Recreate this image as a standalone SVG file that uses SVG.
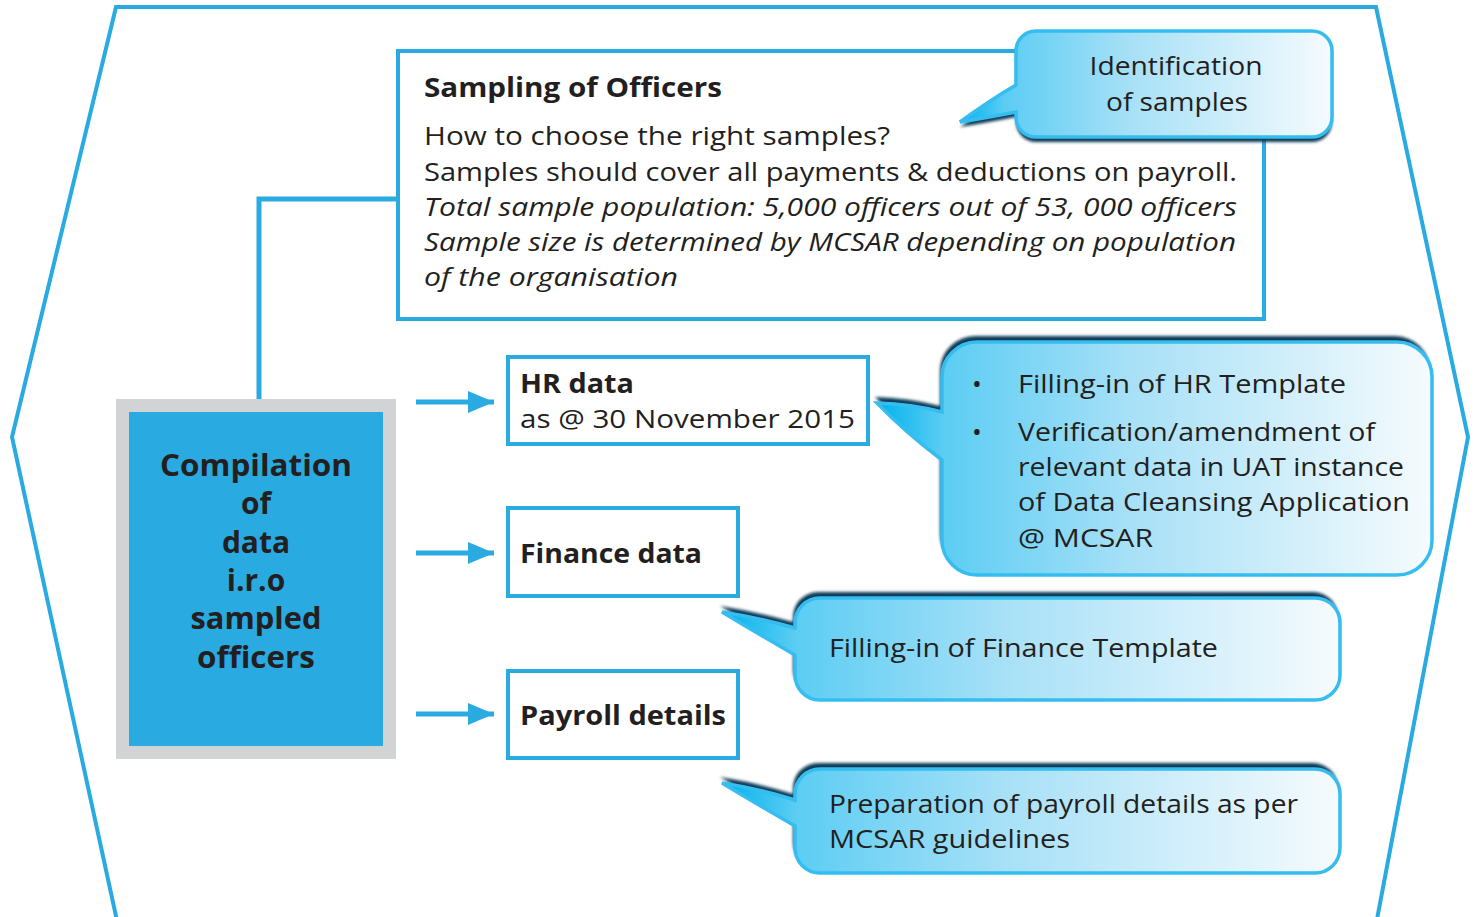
<svg xmlns="http://www.w3.org/2000/svg" width="1477" height="917" viewBox="0 0 1477 917">
  <defs>
    <linearGradient id="bubbleFill" x1="0" y1="0" x2="1" y2="0">
      <stop offset="0" stop-color="#00b2ec"/>
      <stop offset="0.12" stop-color="#5ccdf3"/>
      <stop offset="0.45" stop-color="#a6e0f7"/>
      <stop offset="1" stop-color="#f6fbfe"/>
    </linearGradient>
    <filter id="soft" x="-5%" y="-10%" width="110%" height="120%">
      <feGaussianBlur stdDeviation="1.6"/>
    </filter>
    <marker id="arrow" viewBox="0 0 26 22" refX="26" refY="11" markerWidth="26" markerHeight="22" markerUnits="userSpaceOnUse" orient="auto">
      <path d="M0,0 L26,11 L0,22 Z" fill="#29abe2"/>
    </marker>
  </defs>
  <style>
    .frame { fill: none; stroke: #29abe2; stroke-width: 4; }
    .box { fill: #ffffff; stroke: #29abe2; stroke-width: 4; }
    .link { fill: none; stroke: #29abe2; stroke-width: 5; }
    .arrow { fill: none; stroke: #29abe2; stroke-width: 5; }
    .txt { font-family: "Open Sans", "Noto Sans", "DejaVu Sans", sans-serif; fill: #231f20; font-size: 26px; }
    .bold { font-weight: 700; }
    .ital { font-style: italic; }
    .mid { text-anchor: middle; }
    .bubble { fill: url(#bubbleFill); stroke: #36bdf0; stroke-width: 3.5; }
    .rim { fill: #0b3a56; }
  </style>

  <!-- outer hexagonal frame, open at the bottom edge -->
  <polyline class="frame" points="119,930 12,437 116,7 1376,7 1468,437 1375,930"/>

  <!-- connectors -->
  <g id="connectors">
    <polyline class="link" points="398,199 259,199 259,401"/>
    <line class="arrow" x1="416" y1="402" x2="494" y2="402" marker-end="url(#arrow)"/>
    <line class="arrow" x1="416" y1="553" x2="494" y2="553" marker-end="url(#arrow)"/>
    <line class="arrow" x1="416" y1="714" x2="494" y2="714" marker-end="url(#arrow)"/>
  </g>

  <!-- sampling box -->
  <g id="sampling">
    <rect class="box" x="398" y="51" width="866" height="268"/>
    <text class="txt bold" x="424" y="97" textLength="298" lengthAdjust="spacingAndGlyphs">Sampling of Officers</text>
    <text class="txt" x="424" y="145" textLength="466" lengthAdjust="spacingAndGlyphs">How to choose the right samples?</text>
    <text class="txt" x="424" y="181" textLength="813" lengthAdjust="spacingAndGlyphs">Samples should cover all payments &amp; deductions on payroll.</text>
    <text class="txt ital" x="424" y="216" textLength="813" lengthAdjust="spacingAndGlyphs">Total sample population: 5,000 officers out of 53, 000 officers</text>
    <text class="txt ital" x="424" y="251" textLength="812" lengthAdjust="spacingAndGlyphs">Sample size is determined by MCSAR depending on population</text>
    <text class="txt ital" x="424" y="286" textLength="254" lengthAdjust="spacingAndGlyphs">of the organisation</text>
  </g>

  <!-- callout: identification of samples (shadow underneath) -->
  <g id="identification">
    <path class="rim" filter="url(#soft)" transform="translate(0,5)" d="M1036,31 H1312 A20,20 0 0 1 1332,51 V117 A20,20 0 0 1 1312,137 H1036 A20,20 0 0 1 1016,117 V112 Q985,118 960,122 Q990,100 1016,85 V51 A20,20 0 0 1 1036,31 Z"/>
    <path class="bubble" d="M1036,31 H1312 A20,20 0 0 1 1332,51 V117 A20,20 0 0 1 1312,137 H1036 A20,20 0 0 1 1016,117 V112 Q985,118 960,122 Q990,100 1016,85 V51 A20,20 0 0 1 1036,31 Z"/>
    <text class="txt mid" x="1176" y="75" textLength="173" lengthAdjust="spacingAndGlyphs">Identification</text>
    <text class="txt mid" x="1177" y="111" textLength="142" lengthAdjust="spacingAndGlyphs">of samples</text>
  </g>

  <!-- compilation node -->
  <g id="compilation">
    <rect x="116" y="399" width="280" height="360" fill="#d1d3d4"/>
    <rect x="129" y="412" width="254" height="334" fill="#29abe2"/>
    <text class="txt bold mid" style="font-size:30px" x="256" y="476" textLength="192" lengthAdjust="spacingAndGlyphs">Compilation</text>
    <text class="txt bold mid" style="font-size:30px" x="256" y="514">of</text>
    <text class="txt bold mid" style="font-size:30px" x="256" y="553">data</text>
    <text class="txt bold mid" style="font-size:30px" x="256" y="591">i.r.o</text>
    <text class="txt bold mid" style="font-size:30px" x="256" y="629" textLength="131" lengthAdjust="spacingAndGlyphs">sampled</text>
    <text class="txt bold mid" style="font-size:30px" x="256" y="668" textLength="118" lengthAdjust="spacingAndGlyphs">officers</text>
  </g>

  <!-- data boxes -->
  <g id="hr-data">
    <rect class="box" x="508" y="357" width="360" height="87"/>
    <text class="txt bold" x="520" y="393" textLength="114" lengthAdjust="spacingAndGlyphs">HR data</text>
    <text class="txt" x="520" y="428" textLength="335" lengthAdjust="spacingAndGlyphs">as @ 30 November 2015</text>
  </g>
  <g id="finance-data">
    <rect class="box" x="508" y="508" width="230" height="88"/>
    <text class="txt bold" x="520" y="563" textLength="182" lengthAdjust="spacingAndGlyphs">Finance data</text>
  </g>
  <g id="payroll-details">
    <rect class="box" x="508" y="671" width="230" height="87"/>
    <text class="txt bold" x="520" y="725" textLength="206" lengthAdjust="spacingAndGlyphs">Payroll details</text>
  </g>

  <!-- callout: HR tasks -->
  <g id="hr-tasks">
    <path class="rim" filter="url(#soft)" transform="translate(-2,-6)" d="M977,342 H1397 A35,35 0 0 1 1432,377 V540 A35,35 0 0 1 1397,575 H977 A35,35 0 0 1 942,540 V460 Q905,432 877,403 Q912,404 942,412 V377 A35,35 0 0 1 977,342 Z"/>
    <path class="bubble" d="M977,342 H1397 A35,35 0 0 1 1432,377 V540 A35,35 0 0 1 1397,575 H977 A35,35 0 0 1 942,540 V460 Q905,432 877,403 Q912,404 942,412 V377 A35,35 0 0 1 977,342 Z"/>
    <text class="txt" x="972" y="393">•</text>
    <text class="txt" x="1018" y="393" textLength="328" lengthAdjust="spacingAndGlyphs">Filling-in of HR Template</text>
    <text class="txt" x="972" y="441">•</text>
    <text class="txt" x="1018" y="441" textLength="357" lengthAdjust="spacingAndGlyphs">Verification/amendment of</text>
    <text class="txt" x="1018" y="476" textLength="386" lengthAdjust="spacingAndGlyphs">relevant data in UAT instance</text>
    <text class="txt" x="1018" y="511" textLength="392" lengthAdjust="spacingAndGlyphs">of Data Cleansing Application</text>
    <text class="txt" x="1018" y="547" textLength="135" lengthAdjust="spacingAndGlyphs">@ MCSAR</text>
  </g>

  <!-- callout: finance tasks -->
  <g id="finance-tasks">
    <path class="rim" filter="url(#soft)" transform="translate(-2,-6)" d="M820,598 H1315 A25,25 0 0 1 1340,623 V675 A25,25 0 0 1 1315,700 H820 A25,25 0 0 1 795,675 V655 Q755,632 722,612 Q760,618 795,628 V623 A25,25 0 0 1 820,598 Z"/>
    <path class="bubble" d="M820,598 H1315 A25,25 0 0 1 1340,623 V675 A25,25 0 0 1 1315,700 H820 A25,25 0 0 1 795,675 V655 Q755,632 722,612 Q760,618 795,628 V623 A25,25 0 0 1 820,598 Z"/>
    <text class="txt" x="829" y="657" textLength="389" lengthAdjust="spacingAndGlyphs">Filling-in of Finance Template</text>
  </g>

  <!-- callout: payroll tasks -->
  <g id="payroll-tasks">
    <path class="rim" filter="url(#soft)" transform="translate(-2,-6)" d="M820,769 H1315 A25,25 0 0 1 1340,794 V848 A25,25 0 0 1 1315,873 H820 A25,25 0 0 1 795,848 V826 Q755,803 722,783 Q760,789 795,800 V794 A25,25 0 0 1 820,769 Z"/>
    <path class="bubble" d="M820,769 H1315 A25,25 0 0 1 1340,794 V848 A25,25 0 0 1 1315,873 H820 A25,25 0 0 1 795,848 V826 Q755,803 722,783 Q760,789 795,800 V794 A25,25 0 0 1 820,769 Z"/>
    <text class="txt" x="829" y="813" textLength="469" lengthAdjust="spacingAndGlyphs">Preparation of payroll details as per</text>
    <text class="txt" x="829" y="848" textLength="241" lengthAdjust="spacingAndGlyphs">MCSAR guidelines</text>
  </g>
</svg>
